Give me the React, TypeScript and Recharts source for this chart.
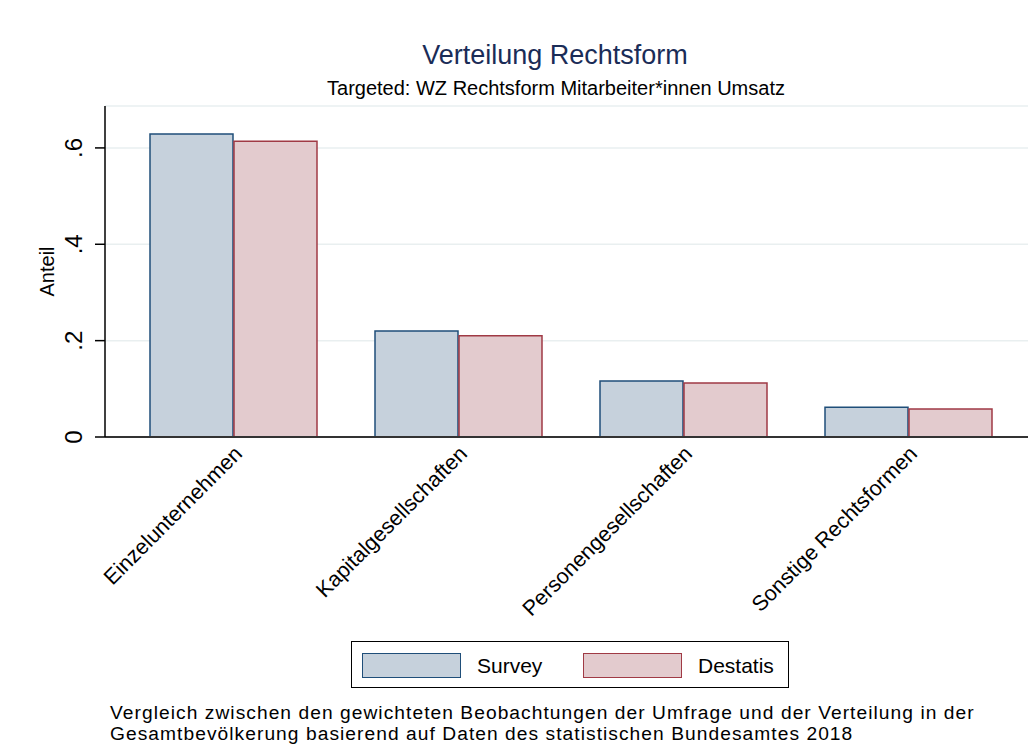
import React from "react";
import { BarChart, Bar, XAxis, YAxis, CartesianGrid } from "recharts";

const categories = [
  "Einzelunternehmen",
  "Kapitalgesellschaften",
  "Personengesellschaften",
  "Sonstige Rechtsformen",
];
const surveyValues = [0.629, 0.22, 0.116, 0.062];
const destatisValues = [0.614, 0.21, 0.112, 0.058];
const yTicks = [0, 0.2, 0.4, 0.6];
const noteLines = [
  "Vergleich zwischen den gewichteten Beobachtungen der Umfrage und der Verteilung in der",
  "Gesamtbevölkerung basierend auf Daten des statistischen Bundesamtes 2018",
];

const data = categories.map((name, i) => ({
  name,
  survey: surveyValues[i],
  destatis: destatisValues[i],
}));

const FONT = "'Liberation Sans', Arial, Helvetica, sans-serif";
const SURVEY_FILL = "#c6d1dc";
const SURVEY_STROKE = "#1f4e79";
const DESTATIS_FILL = "#e3cbce";
const DESTATIS_STROKE = "#a03a45";

const fmt = (v: number) => (v === 0 ? "0" : String(v).replace(/^0/, ""));

const YTick = (props: any) => {
  const { y, payload } = props;
  return (
    <text
      x={73.5}
      y={y}
      transform={`rotate(-90, 73.5, ${y})`}
      textAnchor="middle"
      dominantBaseline="central"
      fontSize={24}
      fontFamily={FONT}
      fill="#000"
    >
      {fmt(payload.value)}
    </text>
  );
};

const XTick = (props: any) => {
  const { x, payload } = props;
  const px = x + 10;
  const py = 455;
  return (
    <text
      x={px}
      y={py}
      transform={`rotate(-45, ${px}, ${py})`}
      textAnchor="end"
      fontSize={21.5}
      fontFamily={FONT}
      fill="#000"
    >
      {payload.value}
    </text>
  );
};

const LegendItem = ({ label, fill, stroke, left }: any) => (
  <div style={{ position: "absolute", left, top: 11, display: "flex", alignItems: "center" }}>
    <div
      style={{
        width: 97,
        height: 23,
        background: fill,
        border: `1.5px solid ${stroke}`,
      }}
    />
    <span style={{ marginLeft: 16, fontSize: 21, lineHeight: "25px" }}>{label}</span>
  </div>
);

export default function App() {
  return (
    <div
      style={{
        position: "absolute",
        left: 0,
        top: 0,
        width: 1028,
        height: 754,
        background: "#fff",
        fontFamily: FONT,
        color: "#000",
        overflow: "hidden",
      }}
    >
      <div
        style={{
          position: "absolute",
          left: 255,
          width: 600,
          top: 42,
          fontSize: 27,
          lineHeight: "27px",
          textAlign: "center",
          color: "#1a2c57",
        }}
      >
        Verteilung Rechtsform
      </div>
      <div
        style={{
          position: "absolute",
          left: 256,
          width: 600,
          top: 78,
          fontSize: 20,
          lineHeight: "20px",
          textAlign: "center",
        }}
      >
        Targeted: WZ Rechtsform Mitarbeiter*innen Umsatz
      </div>

      <BarChart
        width={1028}
        height={754}
        data={data}
        margin={{ top: 106, right: 0, bottom: 0, left: 0 }}
        barSize={83}
        barGap={1}
      >
        <CartesianGrid horizontal vertical={false} stroke="#e9eff0" strokeWidth={1.5} />
        <XAxis
          dataKey="name"
          height={317}
          padding={{ left: 16, right: 7 }}
          axisLine={{ stroke: "#333", strokeWidth: 2 }}
          tickLine={false}
          interval={0}
          tick={<XTick />}
        />
        <YAxis
          width={105}
          domain={[0, 0.687]}
          allowDataOverflow
          ticks={yTicks}
          tickSize={10}
          axisLine={{ stroke: "#000", strokeWidth: 1.5 }}
          tickLine={{ stroke: "#000", strokeWidth: 1.5 }}
          tick={<YTick />}
          label={{
            value: "Anteil",
            angle: -90,
            position: "insideLeft",
            offset: 47,
            style: { fontSize: 20, fontFamily: FONT, fill: "#000", textAnchor: "middle" },
          }}
        />
        <Bar
          dataKey="survey"
          name="Survey"
          fill={SURVEY_FILL}
          stroke={SURVEY_STROKE}
          strokeWidth={1.5}
          isAnimationActive={false}
        />
        <Bar
          dataKey="destatis"
          name="Destatis"
          fill={DESTATIS_FILL}
          stroke={DESTATIS_STROKE}
          strokeWidth={1.5}
          isAnimationActive={false}
        />
      </BarChart>

      <div
        style={{
          position: "absolute",
          left: 351,
          top: 641,
          width: 436,
          height: 45,
          border: "1.5px solid #000",
        }}
      >
        <LegendItem label="Survey" fill={SURVEY_FILL} stroke={SURVEY_STROKE} left={10} />
        <LegendItem label="Destatis" fill={DESTATIS_FILL} stroke={DESTATIS_STROKE} left={231} />
      </div>

      {noteLines.map((line, i) => (
        <div
          key={i}
          style={{
            position: "absolute",
            left: 110,
            top: 701.5 + i * 21.5,
            fontSize: 19.2,
            letterSpacing: 1.05,
            lineHeight: "21.5px",
            whiteSpace: "nowrap",
          }}
        >
          {line}
        </div>
      ))}
    </div>
  );
}
